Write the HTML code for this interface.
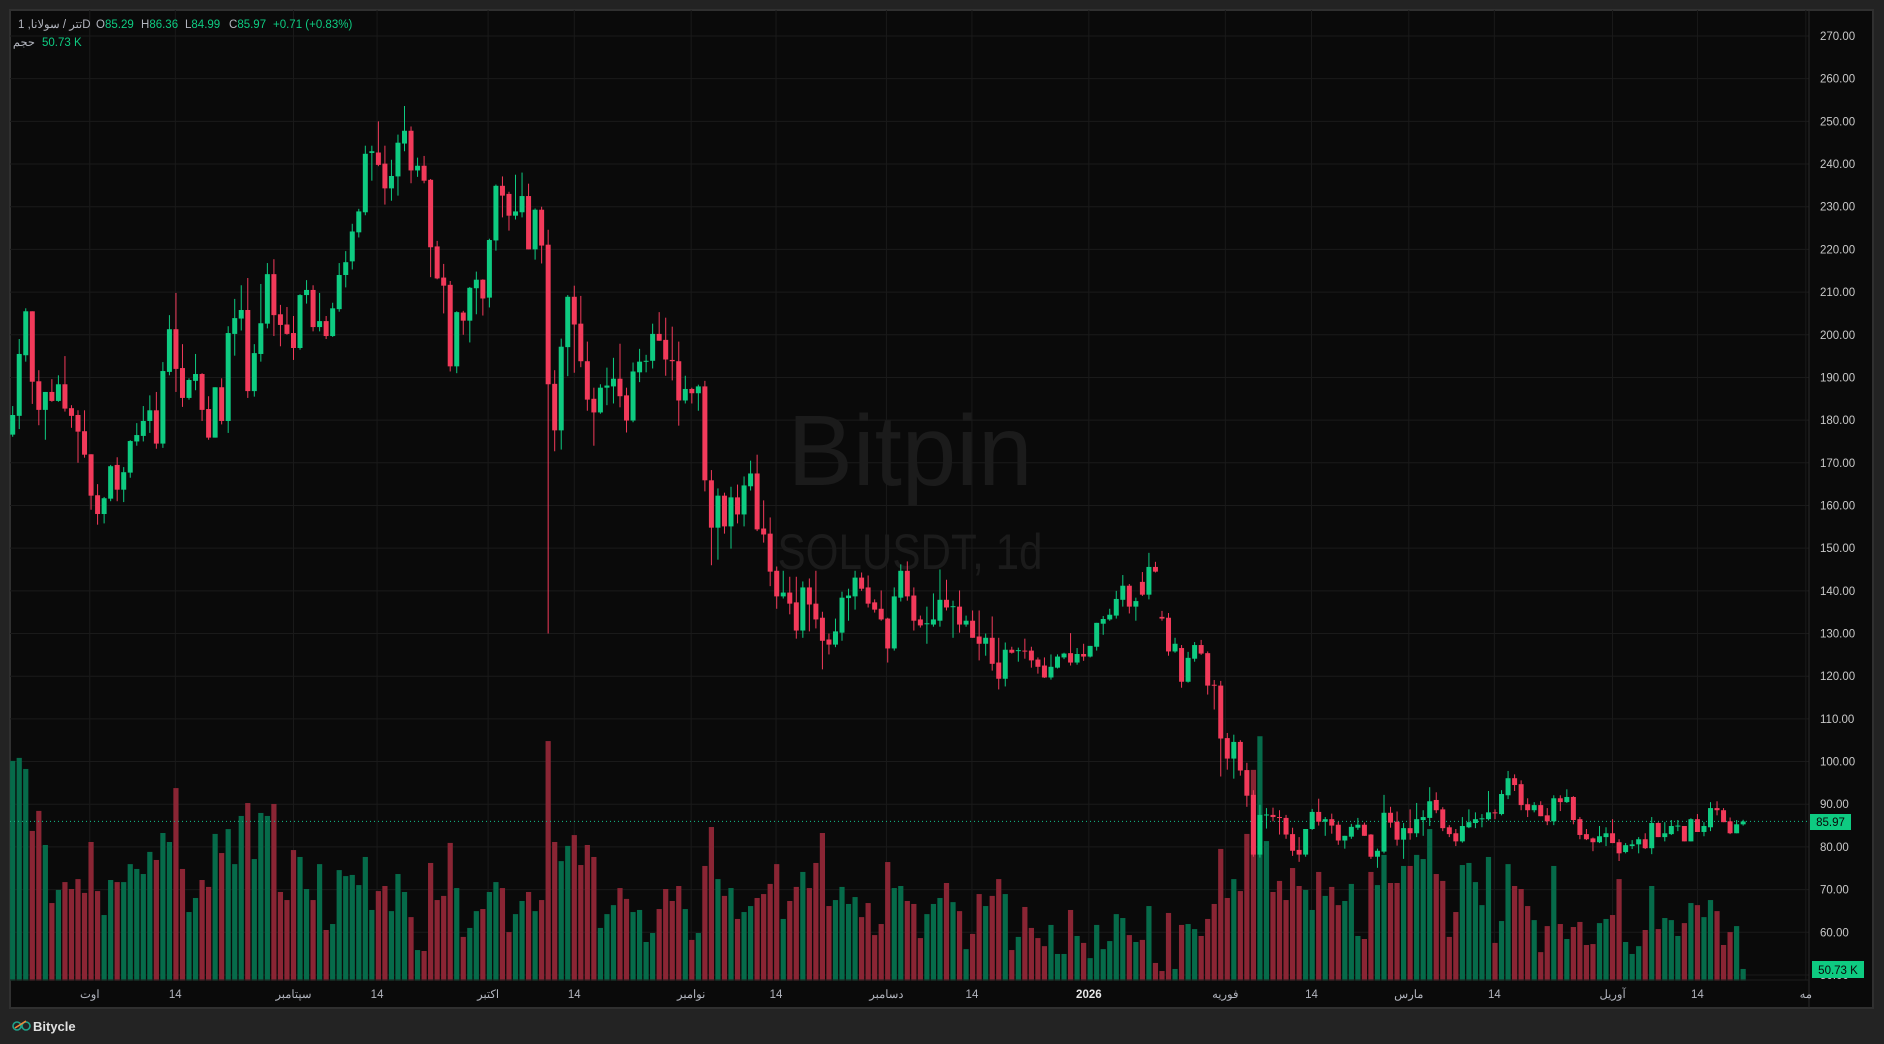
<!DOCTYPE html>
<html><head><meta charset="utf-8"><style>
html,body{margin:0;padding:0;background:#232323;width:1884px;height:1044px;overflow:hidden}
svg{display:block}
text{font-family:"Liberation Sans","Noto Sans CJK SC",sans-serif}
</style></head><body>
<svg id="chart" width="1884" height="1044" xmlns="http://www.w3.org/2000/svg">
<rect x="0" y="0" width="1884" height="1044" fill="#232323"/>
<rect x="10" y="10" width="1863" height="998" fill="#0a0a0a" stroke="#303030" stroke-width="2"/>
<g id="grid"></g>
<text x="910" y="485" font-size="100" fill="#1b1b1b" text-anchor="middle" textLength="245" lengthAdjust="spacingAndGlyphs">Bitpin</text>
<text x="910" y="569" font-size="50" fill="#1b1b1b" text-anchor="middle" textLength="265" lengthAdjust="spacingAndGlyphs">SOLUSDT, 1d</text>
<g id="vols"></g>
<line x1="10" y1="821.4" x2="1809" y2="821.4" stroke="#13c08a" stroke-width="1" stroke-dasharray="1,3"/>
<g id="candles"></g>
<line x1="1809" y1="10" x2="1809" y2="1008" stroke="#2a2a2a"/>
<line x1="10" y1="980" x2="1809" y2="980" stroke="#1e1e1e"/>
<g id="yaxis"></g>
<g id="xaxis"></g>
<rect x="1810" y="814" width="41" height="16" fill="#0ecb81"/>
<text x="1830.5" y="826" font-size="11.5" fill="#0a0a0a" text-anchor="middle">85.97</text>
<rect x="1812" y="961" width="52" height="17" fill="#0ecb81"/>
<text x="1838" y="974" font-size="11.5" fill="#0a0a0a" text-anchor="middle">50.73 K</text>
<g font-size="11.5">
<text x="18" y="28" fill="#b2b5be">1 ,تتر / سولاناD</text>
<text x="96" y="28" fill="#b2b5be">O<tspan fill="#0ecb81">85.29</tspan></text>
<text x="141" y="28" fill="#b2b5be">H<tspan fill="#0ecb81">86.36</tspan></text>
<text x="185" y="28" fill="#b2b5be">L<tspan fill="#0ecb81">84.99</tspan></text>
<text x="229" y="28" fill="#b2b5be">C<tspan fill="#0ecb81">85.97</tspan></text>
<text x="273" y="28" fill="#0ecb81">+0.71 (+0.83%)</text>
<text x="35" y="46" fill="#b2b5be" text-anchor="end">حجم</text>
<text x="42" y="46" fill="#0ecb81">50.73 K</text>
</g>
<g>
<circle cx="17" cy="1026" r="4" fill="none" stroke="#1fa38a" stroke-width="1.6"/>
<circle cx="26" cy="1026" r="4" fill="none" stroke="#1fa38a" stroke-width="1.6"/>
<line x1="15" y1="1028" x2="26" y2="1021" stroke="#f0893a" stroke-width="1.6"/>
<text x="33" y="1031" font-size="13" font-weight="bold" fill="#e0e0e0">Bitycle</text>
</g>
</svg>
<script>
const opens=[176.6,181.0,195.2,205.5,189.1,182.4,186.6,184.5,188.4,182.8,181.2,177.4,172.0,162.4,158.0,161.6,169.5,163.7,167.7,175.0,176.3,179.8,182.3,174.5,191.3,201.3,192.2,185.2,189.2,190.8,182.6,175.9,187.7,179.8,200.2,203.8,205.8,186.8,195.5,202.6,214.2,204.8,202.4,200.4,196.9,209.3,210.5,201.8,203.2,199.7,206.0,214.0,217.2,224.0,228.7,242.6,242.7,240.1,234.3,237.1,244.8,247.8,238.5,239.6,236.3,220.7,213.4,211.7,192.6,205.2,203.3,210.9,212.9,208.7,222.1,234.9,233.0,227.9,228.7,232.5,220.0,229.3,221.1,188.5,177.6,197.1,208.9,202.6,193.8,185.0,181.8,187.6,187.9,189.7,185.8,179.9,191.2,193.7,193.9,200.2,198.8,194.1,193.8,184.6,187.3,186.3,187.9,165.9,154.8,162.3,155.1,161.9,157.9,164.5,167.5,154.6,153.4,144.7,138.7,139.6,137.3,130.7,140.8,137.0,133.7,128.6,127.4,130.2,138.3,138.7,143.1,140.8,137.3,135.8,133.5,126.5,138.4,144.7,138.9,133.3,132.3,132.1,133.0,137.9,136.3,136.3,132.1,133.0,129.3,127.6,129.0,123.2,119.4,126.2,126.0,126.0,126.0,123.9,122.5,119.7,122.0,124.4,125.4,123.2,125.2,124.6,126.9,132.3,133.3,134.2,137.9,141.2,136.3,142.1,139.1,145.6,133.9,133.7,125.8,126.6,118.7,124.1,127.3,125.4,118.0,117.8,105.5,100.7,104.6,98.0,92.2,78.2,87.5,87.5,87.0,86.8,83.0,79.3,78.2,84.2,88.2,85.9,86.5,85.2,81.5,82.4,84.5,85.2,82.9,77.7,78.9,88.0,85.9,81.7,84.4,83.2,86.3,86.8,91.0,88.8,84.6,83.2,81.3,84.6,85.6,86.5,86.5,88.1,87.7,92.1,96.1,94.7,90.0,88.6,89.8,87.4,86.0,91.4,90.5,91.7,86.5,83.0,82.0,81.1,82.3,83.2,81.1,78.8,80.2,80.6,81.8,79.7,85.6,82.3,83.0,84.9,84.9,81.3,86.5,83.5,84.6,89.1,88.6,86.0,83.2,85.29];
const highs=[183.3,199.0,206.2,205.5,191.7,186.6,189.6,190.5,195.0,183.5,182.3,182.3,172.0,165.0,162.0,169.5,171.3,169.0,175.3,179.3,183.3,185.8,186.6,193.6,204.6,209.8,197.8,189.8,195.5,191.0,185.6,187.7,189.8,202.0,208.4,211.6,213.3,197.8,211.9,216.8,217.7,207.0,206.5,204.4,209.5,212.8,211.6,209.8,204.4,207.5,216.8,219.6,226.0,229.5,244.3,244.3,250.0,244.3,241.0,246.9,253.6,248.8,241.5,241.9,236.5,222.0,216.6,212.6,205.5,205.6,211.2,214.8,213.0,222.5,235.2,237.1,233.5,237.5,238.0,235.4,229.6,230.0,224.6,191.7,199.1,209.3,211.5,209.1,198.4,187.6,188.4,192.3,194.6,197.9,187.6,193.5,196.7,195.3,202.6,205.3,204.0,201.9,198.4,190.4,187.6,188.3,189.2,168.3,164.0,163.0,164.4,164.9,166.8,170.5,171.9,161.2,157.2,145.7,144.7,143.3,143.3,142.2,142.9,144.7,135.1,130.0,133.5,139.8,140.5,144.7,144.3,143.6,138.0,140.1,133.7,140.8,146.2,146.9,140.8,134.2,136.3,139.4,145.0,142.6,137.7,140.1,134.2,135.4,135.4,130.0,134.0,129.0,127.9,126.9,126.7,128.8,126.9,124.4,124.4,125.1,125.1,125.5,130.1,126.6,127.6,127.1,132.5,134.1,135.8,140.0,143.7,141.6,138.4,144.4,148.9,146.8,135.3,134.8,129.0,127.3,125.7,128.0,128.5,125.8,119.1,118.9,106.7,106.3,105.0,99.7,93.3,89.9,89.1,89.2,88.6,87.5,84.5,82.3,84.2,88.9,91.3,87.0,87.8,85.9,82.6,85.4,86.8,85.7,83.0,79.6,92.2,89.4,88.3,85.6,88.8,90.3,88.6,94.0,92.8,89.3,85.1,84.2,87.0,88.8,88.1,87.7,93.1,88.8,93.3,97.8,97.0,95.6,91.4,90.5,90.7,89.1,92.1,92.1,93.5,91.9,87.0,84.2,82.2,84.9,84.6,86.5,81.8,80.9,81.6,82.3,83.2,87.0,85.8,85.8,86.3,86.3,84.9,86.7,87.7,85.8,90.5,90.7,89.1,86.9,86.3,86.36];
const lows=[176.1,177.9,193.7,183.8,178.8,175.4,184.3,184.3,182.0,178.2,170.0,171.2,159.0,155.5,155.8,161.0,161.0,160.8,166.5,174.0,175.0,177.0,173.3,173.5,190.5,186.6,183.1,184.8,187.0,179.8,175.4,175.9,179.0,177.0,195.1,201.0,185.2,185.5,193.7,201.5,199.7,197.3,200.0,194.1,196.5,207.3,200.8,200.8,199.0,199.5,205.4,211.1,215.3,222.8,228.0,236.1,239.5,230.5,231.4,232.6,243.0,235.5,237.0,235.5,213.5,213.0,205.0,191.4,191.0,200.0,198.2,204.8,204.5,206.4,219.7,227.5,224.4,227.0,227.5,220.0,217.6,216.7,130.0,172.7,173.1,190.3,191.1,192.4,182.2,174.0,181.5,183.5,183.9,183.0,177.1,179.5,188.9,191.2,192.1,198.6,190.4,189.3,178.7,183.9,183.9,182.2,163.3,146.0,147.3,153.4,149.9,155.8,155.1,163.5,154.0,151.3,141.1,135.8,138.2,134.5,128.8,129.0,130.5,131.2,121.6,125.1,126.8,128.3,133.0,135.6,140.0,136.1,134.9,133.0,123.2,126.0,137.5,137.7,130.7,131.4,127.6,131.6,131.6,135.4,129.0,130.2,131.6,129.0,123.7,124.8,121.3,116.9,117.6,125.3,123.4,124.1,122.0,120.6,119.6,119.2,121.8,124.0,122.5,122.7,123.6,124.4,126.0,129.7,133.0,133.5,136.3,134.7,133.0,138.8,138.0,144.3,133.0,124.8,125.5,117.3,118.5,123.4,125.0,115.7,112.2,96.5,98.1,96.0,96.7,89.4,77.7,77.5,84.3,86.0,82.9,81.9,77.9,76.5,77.7,84.0,85.0,82.6,83.1,80.5,79.6,81.9,84.0,82.6,77.2,75.1,78.5,84.5,80.3,77.2,81.7,82.3,82.6,84.9,87.9,83.7,82.3,80.2,81.0,84.4,84.4,84.6,86.2,86.5,87.4,91.2,93.1,88.6,87.0,88.1,87.2,85.1,85.1,88.4,90.3,85.3,81.8,81.6,79.0,80.9,80.2,80.9,76.7,78.5,79.5,78.5,79.5,78.3,82.3,81.3,82.8,83.7,81.3,81.3,83.5,82.5,83.7,87.4,85.8,83.0,83.2,84.99];
const closes=[181.2,195.5,205.5,189.0,182.4,186.6,184.5,188.4,182.7,181.0,177.3,171.9,162.3,158.0,161.7,169.2,163.7,167.8,175.1,176.5,179.8,182.3,174.5,191.5,201.3,192.0,185.2,189.4,190.8,182.4,175.9,187.7,179.8,200.4,203.9,205.8,186.8,195.7,202.7,214.2,204.6,202.3,200.2,196.9,209.3,210.5,201.8,203.2,199.7,206.2,214.0,217.0,224.2,228.9,242.4,243.0,239.8,234.3,237.2,245.0,247.8,238.5,239.6,236.1,220.5,213.2,211.5,192.6,205.3,203.3,211.0,212.9,208.5,222.2,234.9,232.6,227.9,228.9,232.5,220.0,229.3,220.9,188.4,177.6,197.2,208.9,202.4,193.8,184.8,181.8,187.6,188.1,189.7,185.6,179.9,191.4,193.7,193.9,200.2,198.6,194.2,193.8,184.6,187.3,186.3,187.9,165.9,154.8,162.3,155.1,161.9,157.9,164.7,167.5,154.4,153.2,144.5,138.7,139.6,137.0,130.7,140.8,136.8,133.3,128.3,127.4,130.5,138.4,138.9,143.1,140.5,137.0,135.6,133.3,126.5,138.7,144.7,138.7,133.0,131.9,132.4,133.3,137.9,136.1,136.4,132.1,133.0,129.0,127.6,129.0,122.9,119.4,126.2,125.5,126.1,125.9,123.7,122.2,119.7,122.2,124.6,125.3,123.2,125.2,124.6,127.1,132.5,133.4,134.4,138.1,141.2,136.3,137.6,139.1,145.6,144.5,133.5,125.8,127.6,118.7,124.3,127.3,125.3,117.8,117.9,105.4,100.7,104.6,97.9,92.0,78.2,87.5,87.6,87.0,86.9,82.9,79.1,78.2,84.2,88.2,85.9,86.5,85.0,81.5,82.6,84.7,85.2,82.6,77.7,79.1,88.0,85.7,81.7,84.4,83.2,86.5,87.0,90.7,88.6,84.4,83.0,81.3,84.9,85.8,86.5,86.7,88.1,88.0,92.4,96.1,94.5,89.8,88.6,89.8,87.2,86.0,91.4,90.5,91.7,86.3,82.8,81.8,81.1,82.5,83.2,80.9,78.5,80.4,80.6,81.8,79.7,85.6,82.3,83.2,84.9,85.0,81.3,86.5,83.5,84.9,89.1,88.6,85.8,83.2,85.3,85.97];
const volumesK=[954,967,919,650,737,589,337,394,428,398,441,381,602,389,285,437,428,428,506,485,463,559,524,641,602,836,485,298,359,437,407,637,554,658,506,715,771,528,728,715,767,385,350,567,537,398,350,506,220,246,480,454,459,415,537,307,389,411,302,463,385,276,133,129,511,350,368,598,402,190,229,302,311,385,428,402,211,289,346,385,302,350,1040,602,519,585,632,502,589,537,229,289,328,402,355,298,307,168,207,311,398,346,411,311,177,207,498,667,441,368,402,268,298,324,359,376,420,506,268,346,407,472,402,511,641,324,350,407,333,363,276,337,198,246,515,402,411,346,333,185,289,333,359,424,341,302,137,203,376,324,368,441,376,133,190,320,229,185,150,242,116,116,307,194,164,98,242,137,172,289,272,198,168,177,324,77,42,294,51,242,246,224,194,268,333,572,359,441,389,637,915,1061,606,385,433,350,489,411,394,307,472,368,407,328,346,420,194,181,472,415,546,424,424,498,498,546,528,658,463,433,190,298,502,511,428,328,537,164,259,506,411,398,324,263,124,237,498,246,181,233,255,155,159,250,268,285,441,168,116,150,220,411,224,272,263,194,250,337,328,276,350,302,155,211,237,51];
const priceTicks=[270,260,250,240,230,220,210,200,190,180,170,160,150,140,130,120,110,100,90,80,70,60,50];
const timeLabels=["اوت","14","سپتامبر","14","اکتبر","14","نوامبر","14","دسامبر","14","2026","فوریه","14","مارس","14","آوریل","14","مه"];
const timeLabelIndex=[11.8,24.9,43,55.8,72.8,86,103.9,116.9,133.8,146.9,164.8,185.7,198.9,213.8,226.9,245,258,274.6];

const NS="http://www.w3.org/2000/svg";
const X0=12.7, STEP=6.53, PY0=36, PPX=4.268, VBASE=980.7, VK=4.34;
function xAt(i){return X0+i*STEP;}
function yAt(p){return PY0+(270-p)*PPX;}
function vh(v){return v/VK;}
function mk(tag,attrs,parent){const e=document.createElementNS(NS,tag);for(const k in attrs)e.setAttribute(k,attrs[k]);parent.appendChild(e);return e;}
const G="#0ecb81",R="#f23a5a",VG="#066b4a",VR="#8a2534";
const grid=document.getElementById('grid');
priceTicks.forEach(p=>{const y=yAt(p);if(y<12||y>978)return;const l=mk('line',{x1:10,y1:y,x2:1809,y2:y,stroke:'#1a1a1a'},grid);

});
timeLabelIndex.forEach(i=>{const x=xAt(i);if(x>1807)return;const l=mk('line',{x1:x,y1:10,x2:x,y2:980,stroke:'#1a1a1a'},grid);

});
const vols=document.getElementById('vols');
volumesK.forEach((v,i)=>{const up=closes[i]>=opens[i];const h=vh(v);const r=mk('rect',{x:xAt(i)-2.6,y:VBASE-h,width:5.2,height:h,fill:up?VG:VR},vols);

});
const cg=document.getElementById('candles');
opens.forEach((o,i)=>{const c=closes[i],up=c>=o,col=up?G:R,x=xAt(i);
const w=mk('line',{x1:x,y1:yAt(highs[i]),x2:x,y2:yAt(lows[i]),stroke:col,'stroke-width':1},cg);


const t=yAt(Math.max(o,c)),b=yAt(Math.min(o,c));
const body=mk('rect',{x:x-2.5,y:t,width:5,height:Math.max(1,b-t),fill:col},cg);

});
const ya=document.getElementById('yaxis');
priceTicks.forEach(p=>{const y=yAt(p);if(y>985)return;const t=mk('text',{x:1820,y:y+4,'font-size':11.5,fill:'#c8c8c8'},ya);t.textContent=p.toFixed(2);

});
const xa=document.getElementById('xaxis');
timeLabels.forEach((s,k)=>{const t=mk('text',{x:xAt(timeLabelIndex[k]),y:998,'font-size':11.5,fill:s==='2026'?'#e6e6e6':'#b2b5be','text-anchor':'middle','font-weight':s==='2026'?'bold':'normal'},xa);t.textContent=s;

});
</script>
</body></html>
